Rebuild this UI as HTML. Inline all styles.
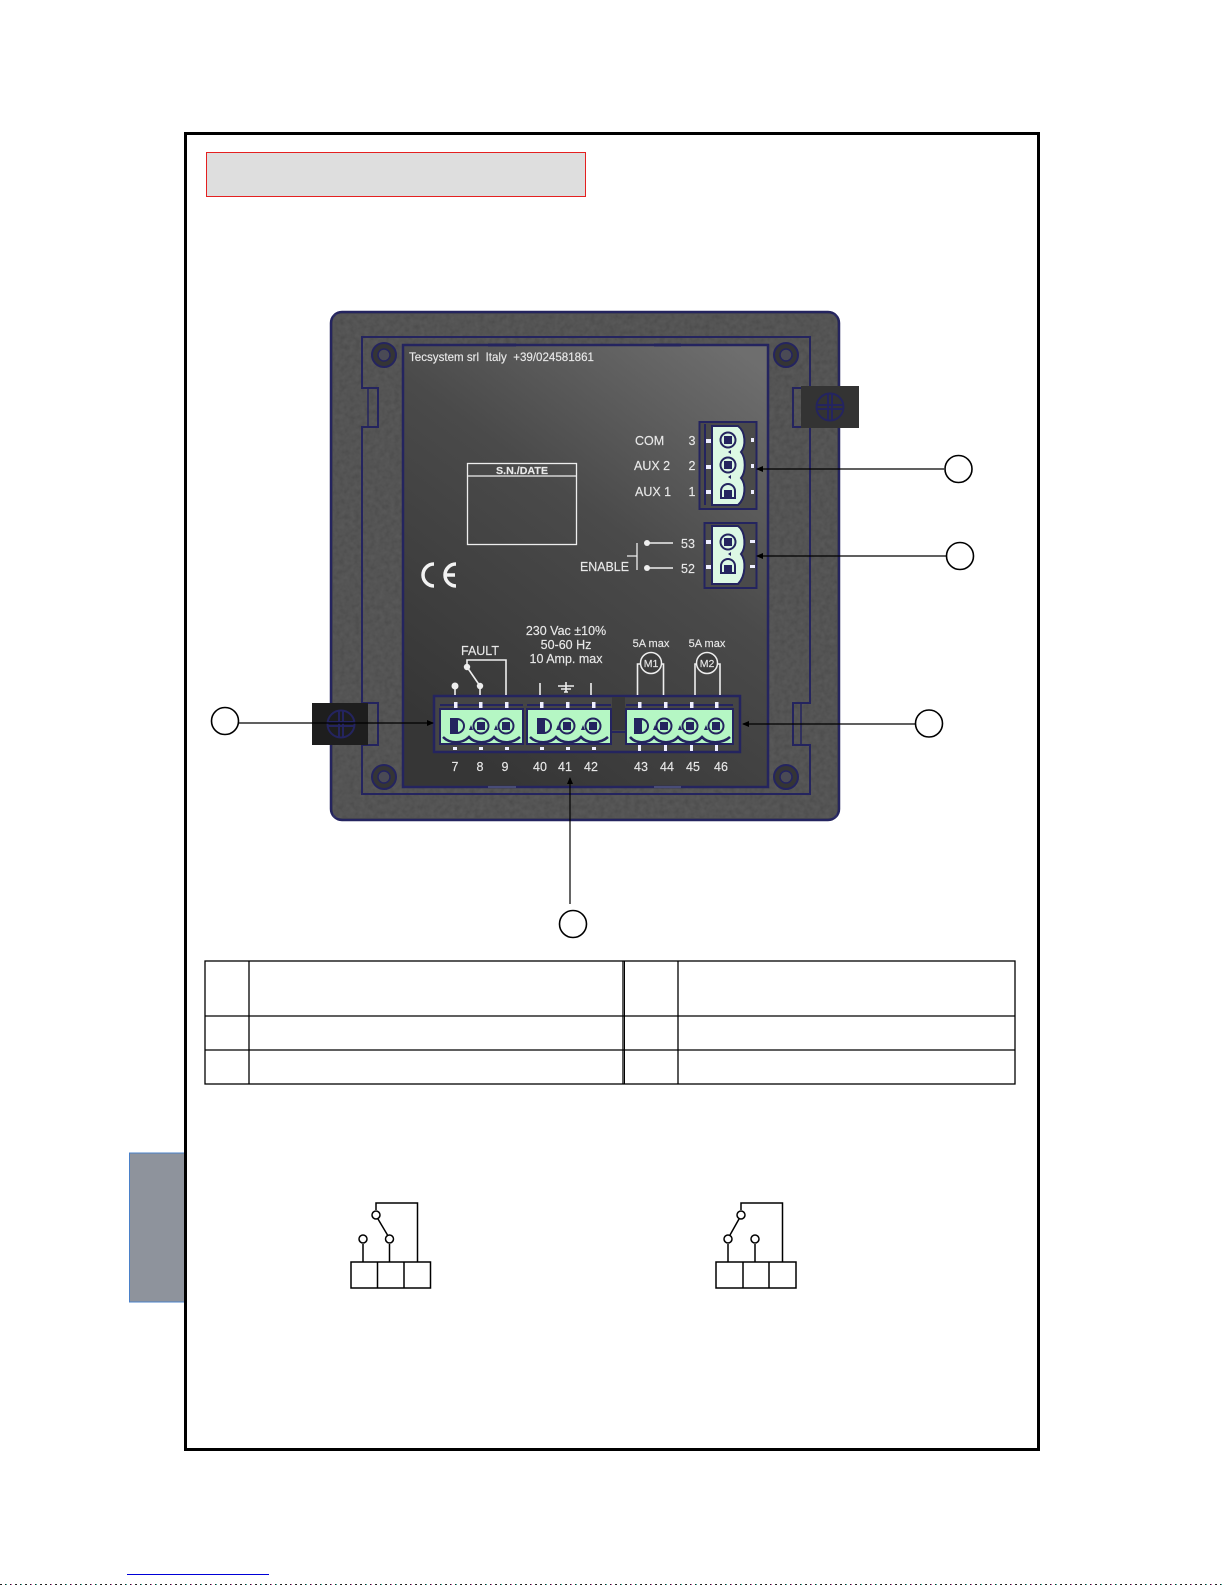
<!DOCTYPE html>
<html><head><meta charset="utf-8"><style>
html,body{margin:0;padding:0;background:#fff}
svg{display:block}
text{font-family:"Liberation Sans",sans-serif}
.w{fill:#e8e8e8;font-size:12.5px;stroke:#e8e8e8;stroke-width:.15}
.n{fill:#e8e8e8;font-size:12.5px;text-anchor:middle;stroke:#e8e8e8;stroke-width:.15}
.l{fill:none;stroke:#eee;stroke-width:1.6}
.nv{fill:none;stroke:#24245f;stroke-width:2}
.c{fill:#b5f7c4;stroke:#24245f;stroke-width:2}
.c2{fill:#dcf8e4;stroke:#24245f;stroke-width:2}
.d{fill:#24245f}
.k{fill:none;stroke:#000;stroke-width:1.5}
.o{fill:#fff;stroke:#000;stroke-width:1.5}
.cal{fill:#fff;stroke:#000;stroke-width:1.6}
</style></head><body>
<svg width="1225" height="1585" viewBox="0 0 1225 1585" xmlns="http://www.w3.org/2000/svg">
<defs>
<linearGradient id="lab" x1="0.9" y1="0" x2="0.3" y2="1"><stop offset="0" stop-color="#6e6e6e"/><stop offset="0.45" stop-color="#4a4a4a"/><stop offset="1" stop-color="#363636"/></linearGradient>
<filter id="tx" x="0" y="0" width="100%" height="100%"><feTurbulence type="fractalNoise" baseFrequency="0.2" numOctaves="2" seed="4"/><feColorMatrix values="0 0 0 0 0.3 0 0 0 0 0.3 0 0 0 0 0.3 0.9 0 0 0 -0.1"/><feComposite in2="SourceGraphic" operator="over"/></filter>
</defs>

<!-- main frame -->
<rect x="185.5" y="133.5" width="853" height="1316" fill="#fff" stroke="#000" stroke-width="3"/>
<rect x="206.5" y="152.5" width="379" height="44" fill="#dedede" stroke="#e42020" stroke-width="1"/>

<!-- panel -->
<rect x="331" y="312" width="508" height="508" rx="11" fill="#4c4c4c" stroke="#24245f" stroke-width="2.5"/>
<rect x="333" y="314" width="504" height="504" rx="10" fill="#4c4c4c" filter="url(#tx)" opacity="0.25"/>
<path class="nv" d="M362 337H810V388H793V427H810V703H793V745H810V794H362V745H378V703H362V427H378V388H362Z"/>
<path d="M368 388V427M801 703V745" stroke="#24245f" stroke-width="1.5" fill="none"/>
<rect x="403" y="345" width="365" height="442" fill="url(#lab)" stroke="#24245f" stroke-width="2.5"/>
<path d="M488 345H516M654 345H681" stroke="#24245f" stroke-width="3"/>
<path d="M488 787H516M654 787H681" stroke="#555a80" stroke-width="1.5"/>

<!-- screws -->
<g fill="#353535" stroke="#24245f" stroke-width="2">
<circle cx="384" cy="355" r="12"/><circle cx="786" cy="355" r="12"/><circle cx="384" cy="777" r="12"/><circle cx="786" cy="777" r="12"/>
</g>
<g fill="#4a4a55" stroke="#24245f" stroke-width="1.5">
<circle cx="384" cy="355" r="6"/><circle cx="786" cy="355" r="6"/><circle cx="384" cy="777" r="6"/><circle cx="786" cy="777" r="6"/>
</g>

<!-- tabs -->
<rect x="801" y="386" width="58" height="42" fill="#333"/>
<g fill="none" stroke="#24245f" stroke-width="2"><circle cx="830" cy="407" r="13.5"/><path d="M816 405H844M816 409H844M828 393V421M832 393V421"/></g>
<rect x="312" y="703" width="56" height="42" fill="#1e1e1e"/>
<g fill="none" stroke="#24245f" stroke-width="2"><circle cx="341" cy="724" r="13.5"/><path d="M327 722H355M327 726H355M339 710V738M343 710V738"/></g>

<!-- panel text -->
<text x="409" y="361" class="w" style="font-size:12px" textLength="185" lengthAdjust="spacingAndGlyphs" xml:space="preserve">Tecsystem srl  Italy  +39/024581861</text>
<rect x="467.5" y="463.5" width="109" height="81" fill="none" stroke="#eee" stroke-width="1.3"/>
<path d="M467 476H577" stroke="#eee" stroke-width="1.3"/>
<text x="522" y="474" class="n" style="font-size:10.5px;font-weight:bold" textLength="52" lengthAdjust="spacingAndGlyphs">S.N./DATE</text>
<text x="635" y="445" class="w">COM</text><text x="692" y="445" class="n">3</text>
<text x="634" y="470" class="w">AUX 2</text><text x="692" y="470" class="n">2</text>
<text x="635" y="496" class="w">AUX 1</text><text x="692" y="496" class="n">1</text>
<text x="681" y="548" class="w">53</text><text x="681" y="573" class="w">52</text>
<text x="580" y="571" class="w" textLength="49" lengthAdjust="spacingAndGlyphs">ENABLE</text>
<path d="M637 543V570M627 556H637" stroke="#eee" stroke-width="1.3" fill="none"/>
<circle cx="647" cy="543" r="3" fill="#eee"/><circle cx="647" cy="568" r="3" fill="#eee"/>
<path class="l" d="M647 543H673M647 568H673"/>
<!-- CE -->
<path d="M434 564A10.5 10.5 0 0 0 434 586M456 564A10.5 10.5 0 0 0 456 586M444 575H455" fill="none" stroke="#f2f2f2" stroke-width="3.5"/>

<!-- top right connector -->
<rect x="699.5" y="422" width="57" height="87" fill="#4a4a4a" stroke="#24245f" stroke-width="2"/>
<path class="nv" d="M705 424V505"/>
<path class="c2" d="M712 426H738C746 432 746 446 741 452C746 458 746 472 741 478C746 484 746 498 738 505H712Z"/>
<g class="c2"><circle cx="728" cy="440" r="7.5"/><circle cx="728" cy="465" r="7.5"/></g>
<path class="c2" d="M721 498V491A7 7 0 0 1 735 491V498Z"/>
<g class="d"><rect x="724" y="436" width="8" height="8"/><rect x="724" y="461" width="8" height="8"/><rect x="724" y="490" width="8" height="7"/>
<path d="M728 452l3-2v4zM728 477l3-2v4z"/></g>
<g fill="#eef"><rect x="706" y="439" width="5" height="4"/><rect x="706" y="465" width="5" height="4"/><rect x="706" y="490" width="5" height="4"/><rect x="751" y="438" width="3" height="4"/><rect x="751" y="464" width="3" height="4"/><rect x="751" y="490" width="3" height="4"/></g>

<!-- second connector -->
<rect x="704.5" y="523" width="52" height="65" fill="#4a4a4a" stroke="#24245f" stroke-width="2"/>
<path class="c2" d="M712 526H738C746 532 746 548 741 554C746 560 746 576 738 584H712Z"/>
<circle cx="728" cy="542" r="7.5" class="c2"/>
<path class="c2" d="M721 573V566A7 7 0 0 1 735 566V573Z"/>
<g class="d"><rect x="724" y="538" width="8" height="8"/><rect x="724" y="565" width="8" height="7"/><path d="M728 554l3-2v4z"/></g>
<g fill="#eef"><rect x="706" y="540" width="5" height="4"/><rect x="706" y="565" width="5" height="4"/><rect x="750" y="540" width="5" height="3"/><rect x="750" y="565" width="5" height="3"/></g>

<!-- bottom connector -->
<rect x="434" y="696" width="306" height="56" fill="#454545" stroke="#24245f" stroke-width="2.5"/>
<path d="M612 697H625V730H612Z" fill="#383838"/>
<path d="M612 732H625" stroke="#24245f" stroke-width="2"/>
<g fill="#b5f7c4" stroke="#24245f" stroke-width="2">
<rect x="440" y="709" width="83" height="35"/><rect x="527" y="709" width="84" height="35"/><rect x="626" y="709" width="107" height="35"/>
</g>
<path d="M440 705H523M527 705H611M626 705H733" stroke="#24245f" stroke-width="2" fill="none"/>
<g fill="#eef"><rect x="454" y="702" width="3.5" height="6"/><rect x="479" y="702" width="3.5" height="6"/><rect x="505" y="702" width="3.5" height="6"/><rect x="540" y="702" width="3.5" height="6"/><rect x="566" y="702" width="3.5" height="6"/><rect x="592" y="702" width="3.5" height="6"/><rect x="638" y="702" width="3.5" height="6"/><rect x="664" y="702" width="3.5" height="6"/><rect x="690" y="702" width="3.5" height="6"/><rect x="715" y="702" width="3.5" height="6"/>
<rect x="453" y="747" width="4" height="3"/><rect x="479" y="747" width="4" height="3"/><rect x="505" y="747" width="4" height="3"/><rect x="540" y="747" width="4" height="3"/><rect x="566" y="747" width="4" height="3"/><rect x="592" y="747" width="4" height="3"/><rect x="638" y="745" width="3" height="6"/><rect x="664" y="745" width="3" height="6"/><rect x="690" y="745" width="3" height="6"/><rect x="715" y="745" width="3" height="6"/></g>
<path class="nv" style="stroke-width:2.5" d="M443 737C450 744 462 744 469 737C475 744 488 744 494 737C500 744 512 744 520 737M530 737C537 744 550 744 556 737C562 744 575 744 581 737C587 744 600 744 608 737M630 737C636 744 648 744 654 737C660 744 672 744 678 737C684 744 696 744 702 737C708 744 722 744 730 737"/>
<!-- D-shaped first terminals -->
<g fill="#b5f7c4" stroke="#24245f" stroke-width="2">
<path d="M451 719H457A7 7 0 0 1 457 733H451Z"/><path d="M538 719H544A7 7 0 0 1 544 733H538Z"/><path d="M635 719H641A7 7 0 0 1 641 733H635Z"/>
<circle cx="481" cy="726" r="7.5"/><circle cx="506" cy="726" r="7.5"/>
<circle cx="567" cy="726" r="7.5"/><circle cx="593" cy="726" r="7.5"/>
<circle cx="664" cy="726" r="7.5"/><circle cx="690" cy="726" r="7.5"/><circle cx="716" cy="726" r="7.5"/>
</g>
<g class="d">
<rect x="452" y="720" width="6" height="12"/><rect x="477" y="722" width="8" height="8"/><rect x="502" y="722" width="8" height="8"/>
<rect x="539" y="720" width="6" height="12"/><rect x="563" y="722" width="8" height="8"/><rect x="589" y="722" width="8" height="8"/>
<rect x="636" y="720" width="6" height="12"/><rect x="660" y="722" width="8" height="8"/><rect x="686" y="722" width="8" height="8"/><rect x="712" y="722" width="8" height="8"/>
<path d="M469 730l2-5 2 5zM494 730l2-5 2 5zM556 730l2-5 2 5zM581 730l2-5 2 5zM653 730l2-5 2 5zM678 730l2-5 2 5zM704 730l2-5 2 5z"/>
</g>

<!-- bottom numbers -->
<text x="455" y="771" class="n">7</text><text x="480" y="771" class="n">8</text><text x="505" y="771" class="n">9</text>
<text x="540" y="771" class="n">40</text><text x="565" y="771" class="n">41</text><text x="591" y="771" class="n">42</text>
<text x="641" y="771" class="n">43</text><text x="667" y="771" class="n">44</text><text x="693" y="771" class="n">45</text><text x="721" y="771" class="n">46</text>

<text x="566" y="635" class="n">230 Vac ±10%</text>
<text x="566" y="649" class="n">50-60 Hz</text>
<text x="566" y="663" class="n">10 Amp. max</text>
<text x="480" y="655" class="n">FAULT</text>
<text x="651" y="647" class="n" style="font-size:11px">5A max</text>
<text x="707" y="647" class="n" style="font-size:11px">5A max</text>
<circle cx="651" cy="663" r="10.5" fill="#3c3c3c" stroke="#eee" stroke-width="1.5"/>
<circle cx="707" cy="663" r="10.5" fill="#3c3c3c" stroke="#eee" stroke-width="1.5"/>
<text x="651" y="667" class="n" style="font-size:10.5px">M1</text>
<text x="707" y="667" class="n" style="font-size:10.5px">M2</text>
<path class="l" d="M637.5 695V664H641M663.5 695V664H661M695 695V664H697M720 695V664H717"/>
<path class="l" d="M467 667V660H506V695M467 667L480 686M455 686V695M480 686V695M540 683V695M591 683V695"/>
<circle cx="467" cy="667" r="3.2" fill="#eee"/><circle cx="480" cy="686" r="3.2" fill="#eee"/><circle cx="455" cy="686" r="3.5" fill="#eee"/>
<path d="M558 686H574M561 689H571M564 692H568M566 682V692" stroke="#eee" stroke-width="1.6" fill="none"/>

<!-- callouts -->
<g stroke="#000" stroke-width="1.2" fill="none">
<path d="M944 469H757M946 556H757M915 724H743M239 723H433M570 904V778"/>
</g>
<g fill="#000">
<path d="M756 469l7-3v6zM756 556l7-3v6zM742 724l7-3v6zM434 723l-7-3v6zM570 777l-3 7h6z"/>
</g>
<circle cx="958.5" cy="469" r="13.5" class="cal"/>
<circle cx="960" cy="556" r="13.5" class="cal"/>
<circle cx="929" cy="723.5" r="13.5" class="cal"/>
<circle cx="225" cy="721" r="13.5" class="cal"/>
<circle cx="573" cy="924" r="13.5" class="cal"/>

<!-- table -->
<g fill="none" stroke="#000" stroke-width="1.3">
<rect x="205" y="961" width="810" height="123"/>
<path d="M249 961V1084M623 961V1084M678 961V1084M205 1016H1015M205 1050H1015"/>
</g>
<path d="M624.5 961V1084" stroke="#000" stroke-width="1"/>

<!-- side tab -->
<rect x="129.5" y="1153" width="55" height="149" fill="#8e939c" stroke="#4a80c8" stroke-width="1"/>
<path d="M185.5 1140V1320" stroke="#000" stroke-width="3"/>

<!-- relay left -->
<path class="k" d="M351 1262H430.5V1288H351ZM377.5 1262V1288M404 1262V1288"/>
<path class="k" d="M376 1210V1203H417.5V1262M378 1219L387.5 1235M363 1244V1262M389.5 1244V1262"/>
<ellipse cx="376" cy="1215" rx="4" ry="4" class="o"/><ellipse cx="363" cy="1239" rx="4" ry="4" class="o"/><ellipse cx="389.5" cy="1239" rx="4" ry="4" class="o"/>
<!-- relay right -->
<path class="k" d="M716 1262H796V1288H716ZM743 1262V1288M769 1262V1288"/>
<path class="k" d="M741 1210V1203H782.5V1262M739 1219L730 1235M728 1244V1262M755 1244V1262"/>
<ellipse cx="741" cy="1215" rx="4" ry="4" class="o"/><ellipse cx="728" cy="1239" rx="4" ry="4" class="o"/><ellipse cx="755" cy="1239" rx="4" ry="4" class="o"/>

<!-- footer -->
<rect x="127" y="1574" width="142" height="1" fill="#0000d8"/>
<path d="M0 1584.5H1225" stroke="#222" stroke-width="1" stroke-dasharray="2 3"/>
<path d="M6 1584.5H1225" stroke="#3a9" stroke-width="1" stroke-dasharray="1 14"/>
<path d="M11 1584.5H1225" stroke="#c5a" stroke-width="1" stroke-dasharray="1 19"/>
</svg>
</body></html>
